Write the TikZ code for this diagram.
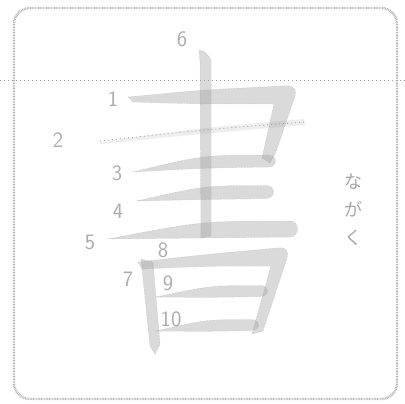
\documentclass[tikz,border=0pt]{standalone}
\usepackage{fontspec}
\newfontfamily\jpfont{Noto Sans CJK JP}
\newcommand\hstk[5]{%
  \path[stk] (#1,#2) .. controls ({(#1+#3)/2},{#4-#5}) .. ({#3-6},{#4-#5})
    .. controls ({#3+4},{#4-#5}) and ({#3+4},{#4+#5}) .. ({#3-6},{#4+#5})
    .. controls ({(#1+#3)/2},{#4+#5+1}) .. (#1,#2) -- cycle;}
\tikzset{
  stk/.style={fill=gray!80, fill opacity=0.36, draw=gray!70, draw opacity=0.7, densely dotted, line width=0.5pt},
  lab/.style={text=gray!65, font=\sffamily\fontsize{22}{22}\selectfont, inner sep=0pt},
}
\begin{document}
\begin{tikzpicture}[x=1pt,y=-1pt]
\useasboundingbox (0,0) rectangle (405,404);
% frame
\draw[gray!60, line width=2.4pt, dash pattern=on 0.8pt off 0.8pt, rounded corners=16pt] (14,8) rectangle (397,399);
% guide line
\draw[gray!80, line width=0.8pt, dash pattern=on 1pt off 3pt] (0,80) -- (405,80);
% stroke 2 (faint)
\path[fill=gray!60, fill opacity=0.22] (100,142) .. controls (200,128) .. (304,119) -- (305,125) .. controls (200,134) .. (100,144) -- cycle;
\draw[gray!70, line width=0.9pt, dash pattern=on 1pt off 3pt] (100,141) .. controls (200,130) .. (305,122);
% stroke 1 (horizontal with fold)
\path[stk] (128,97) .. controls (200,90) .. (284,86) .. controls (294,85) and (297,90) .. (295,96)
  -- (276,152) -- (270,163) -- (262,158) -- (274,104) .. controls (200,104) .. (133,102) -- cycle;
% strokes 3,4,5
\hstk{133}{172}{274}{161}{6}
\hstk{137}{201}{272}{192}{6.5}
\hstk{108}{239}{296}{229}{8}
% stroke 6 (vertical)
\path[stk] (199,50) .. controls (206,52) .. (211,60) -- (211,236) -- (201,238) -- (200,62) -- cycle;
% stroke 7 (left of box)
\path[stk] (141,259) -- (153,262) -- (160,344) -- (155,354) -- (150,346) -- cycle;
% stroke 8 (top and right of box)
\path[stk] (138,262) .. controls (210,254) .. (278,248) .. controls (287,247) and (289,252) .. (287,258)
  -- (263,331) -- (252,334) -- (271,266) .. controls (210,266) .. (142,269) -- cycle;
% strokes 9,10
\hstk{156}{297}{266}{291}{5.5}
\hstk{156}{331}{257}{325}{5.5}
% numbers
\node[lab] (n6) at (182,39) {6};
\node[lab] (n1) at (113,99) {1};
\node[lab] (n2) at (58,140) {2};
\node[lab] (n3) at (117,173) {3};
\node[lab] (n4) at (118,211) {4};
\node[lab] (n5) at (90,242) {5};
\node[lab] (n8) at (163,250) {8};
\node[lab] (n7) at (128,279) {7};
\node[lab] (n9) at (168,283) {9};
\node[lab] (n10) at (171,319) {10};
% vertical kana
\node[text=gray!70, font=\jpfont\fontsize{18}{28}\selectfont, align=center, inner sep=0pt] (kana) at (353,210) {な\\が\\く};
\end{tikzpicture}
\end{document}
